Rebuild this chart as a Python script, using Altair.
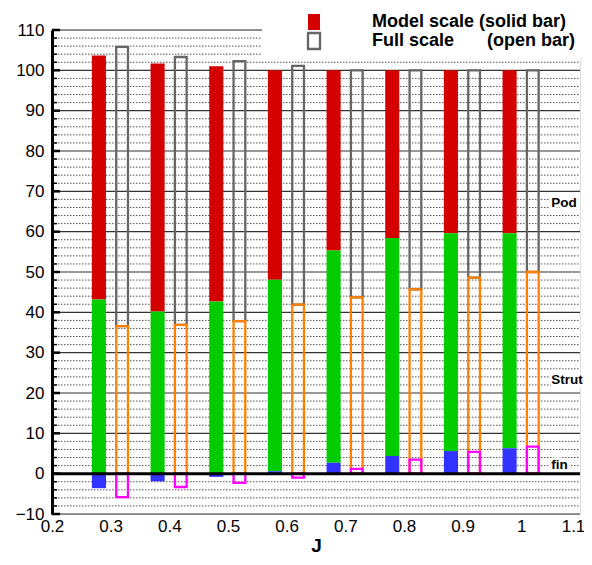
import altair as alt
import pandas as pd

# ---- data ----
J = [0.3, 0.4, 0.5, 0.6, 0.7, 0.8, 0.9, 1.0]
model_fin = [-3.6, -1.9, -0.8, 0.6, 2.7, 4.4, 5.6, 6.3]
model_strut = [43.2, 40.2, 42.7, 48.1, 55.3, 58.4, 59.6, 59.6]
model_total = [103.7, 101.7, 101.0, 100.0, 100.0, 100.0, 100.0, 100.0]
full_fin = [-5.8, -3.3, -2.3, -1.0, 1.2, 3.5, 5.4, 6.7]
full_strut = [36.6, 36.9, 37.8, 41.9, 43.7, 45.7, 48.6, 50.0]
full_total = [105.8, 103.3, 102.3, 101.1, 100.0, 100.0, 100.0, 100.0]

comp_labels = ["Pod", "Strut", "fin"]
comp_label_y = [67.2, 23.1, 2.2]
comp_label_x = [1.051, 1.051, 1.051]

legend_labels = ["Model scale (solid bar)", "Full scale", "(open bar)"]

x_ticks = [0.2, 0.3, 0.4, 0.5, 0.6, 0.7, 0.8, 0.9, 1.0, 1.1]
y_major = [-10, 10, 20, 30, 40, 50, 60, 70, 80, 90, 100, 110]
y_labels = [-10, 0, 10, 20, 30, 40, 50, 60, 70, 80, 90, 100, 110]
y_minor = [v for v in range(-10, 111, 2) if v % 10 != 0]

W, H = 528, 484
FONT = "Liberation Sans"

df = pd.DataFrame({
    "J": J,
    "mfin": model_fin, "mstrut": model_strut, "mtotal": model_total,
    "ffin": full_fin, "fstrut": full_strut, "ftotal": full_total,
})
df["sx0"] = df["J"] - 0.032
df["sx1"] = df["J"] - 0.008
df["ox0"] = df["J"] + 0.0095
df["ox1"] = df["J"] + 0.0295
df["mgreen0"] = df["mfin"].clip(lower=0)
df["zero"] = 0.0

xscale = alt.Scale(domain=[0.2, 1.1], nice=False, zero=False)
yscale = alt.Scale(domain=[-10, 110], nice=False, zero=False)
xaxis = alt.Axis(values=x_ticks, format="~g", tickSize=0, domain=False, grid=False,
                 labelFontSize=17, labelFont=FONT, labelColor="black", labelPadding=4,
                 labelFlush=False, labelOverlap=False,
                 labelOffset=alt.expr("datum.value >= 1.1 ? -7 : 0"),
                 title="J", titleFont=FONT,
                 titleFontSize=19, titleFontWeight="bold", titleColor="black", titlePadding=2)
yaxis = alt.Axis(values=y_labels, tickSize=0, domain=True, domainColor="black", domainWidth=3,
                 grid=False, labelFontSize=17, labelFont=FONT, labelColor="black",
                 labelPadding=8, labelFlush=False, labelOverlap=False, title=None)


def X(f):
    return alt.X(f"{f}:Q", scale=xscale, axis=xaxis)


def Y(f):
    return alt.Y(f"{f}:Q", scale=yscale, axis=yaxis)


minor_df = pd.DataFrame({"v": y_minor})
major_df = pd.DataFrame({"v": y_major})

minor_grid = alt.Chart(minor_df).mark_rule(color="#555", strokeDash=[1.5, 1.5], strokeWidth=1).encode(
    y=Y("v"), x=alt.value(0), x2=alt.value(W))
major_grid = alt.Chart(major_df).mark_rule(color="#333", strokeWidth=1.2).encode(
    y=Y("v"), x=alt.value(0), x2=alt.value(W))
minor_ticks = alt.Chart(minor_df).mark_rule(color="black", strokeWidth=1.5).encode(
    y=Y("v"), x=alt.value(0), x2=alt.value(5))
major_ticks = alt.Chart(pd.DataFrame({"v": y_labels})).mark_rule(color="black", strokeWidth=2.5).encode(
    y=Y("v"), x=alt.value(0), x2=alt.value(8))

one = pd.DataFrame({"a": [0]})
legend_bg = alt.Chart(one).mark_rect(color="white").encode(
    x=alt.value(210), x2=alt.value(W + 4), y=alt.value(-22), y2=alt.value(28))

red = alt.Chart(df).mark_rect(color="#d40000").encode(x=X("sx0"), x2="sx1", y=Y("mstrut"), y2="mtotal")
green = alt.Chart(df).mark_rect(color="#00cc00").encode(x=X("sx0"), x2="sx1", y=Y("mgreen0"), y2="mstrut")
blue = alt.Chart(df).mark_rect(color="#3333ff").encode(x=X("sx0"), x2="sx1", y=Y("zero"), y2="mfin")

gray = alt.Chart(df).mark_rect(fillOpacity=0, stroke="#666666", strokeWidth=2.3).encode(
    x=X("ox0"), x2="ox1", y=Y("fstrut"), y2="ftotal")
orange = alt.Chart(df).mark_rect(fillOpacity=0, stroke="#ff8000", strokeWidth=2.3).encode(
    x=X("ox0"), x2="ox1", y=Y("zero"), y2="fstrut")
magenta = alt.Chart(df).mark_rect(fillOpacity=0, stroke="#ff00ff", strokeWidth=2.3).encode(
    x=X("ox0"), x2="ox1", y=Y("zero"), y2="ffin")

zero_line = alt.Chart(pd.DataFrame({"v": [0]})).mark_rule(color="black", strokeWidth=3).encode(
    y=Y("v"), x=alt.value(0), x2=alt.value(W))

lab_df = pd.DataFrame({"x": comp_label_x, "y": comp_label_y, "t": comp_labels})
lab_halo = alt.Chart(lab_df).mark_text(align="left", baseline="middle", font=FONT, fontSize=13.5,
                                       fontWeight="bold", color="white", stroke="white",
                                       strokeWidth=5).encode(x=X("x"), y=Y("y"), text="t:N")
lab = alt.Chart(lab_df).mark_text(align="left", baseline="middle", font=FONT, fontSize=13.5,
                                  fontWeight="bold", color="black").encode(x=X("x"), y=Y("y"), text="t:N")

leg_red = alt.Chart(one).mark_rect(color="#d40000").encode(
    x=alt.value(256), x2=alt.value(268), y=alt.value(-16), y2=alt.value(0))
leg_open = alt.Chart(one).mark_rect(fill="white", stroke="#666666", strokeWidth=2.3).encode(
    x=alt.value(256), x2=alt.value(268), y=alt.value(3), y2=alt.value(19))
leg_t1 = alt.Chart(one).mark_text(align="left", baseline="alphabetic", font=FONT, fontSize=18,
                                  fontWeight="bold", color="black").encode(
    x=alt.value(320), y=alt.value(-3.5), text=alt.value(legend_labels[0]))
leg_t2 = alt.Chart(one).mark_text(align="left", baseline="alphabetic", font=FONT, fontSize=18,
                                  fontWeight="bold", color="black").encode(
    x=alt.value(320), y=alt.value(15.5), text=alt.value(legend_labels[1]))
leg_t3 = alt.Chart(one).mark_text(align="right", baseline="alphabetic", font=FONT, fontSize=18,
                                  fontWeight="bold", color="black").encode(
    x=alt.value(523), y=alt.value(15.5), text=alt.value(legend_labels[2]))

chart = alt.layer(
    minor_grid, major_grid, legend_bg,
    red, green, blue, gray, orange, magenta,
    zero_line, minor_ticks, major_ticks, lab_halo, lab,
    leg_red, leg_open, leg_t1, leg_t2, leg_t3,
).properties(
    width=W, height=H,
    autosize=alt.AutoSizeParams(type="none"),
    padding={"left": 44, "top": 22, "right": 4, "bottom": 43},
).configure_view(stroke=None).configure(background="white")

chart.save("out.html", embed_options={"renderer": "svg", "actions": False})
